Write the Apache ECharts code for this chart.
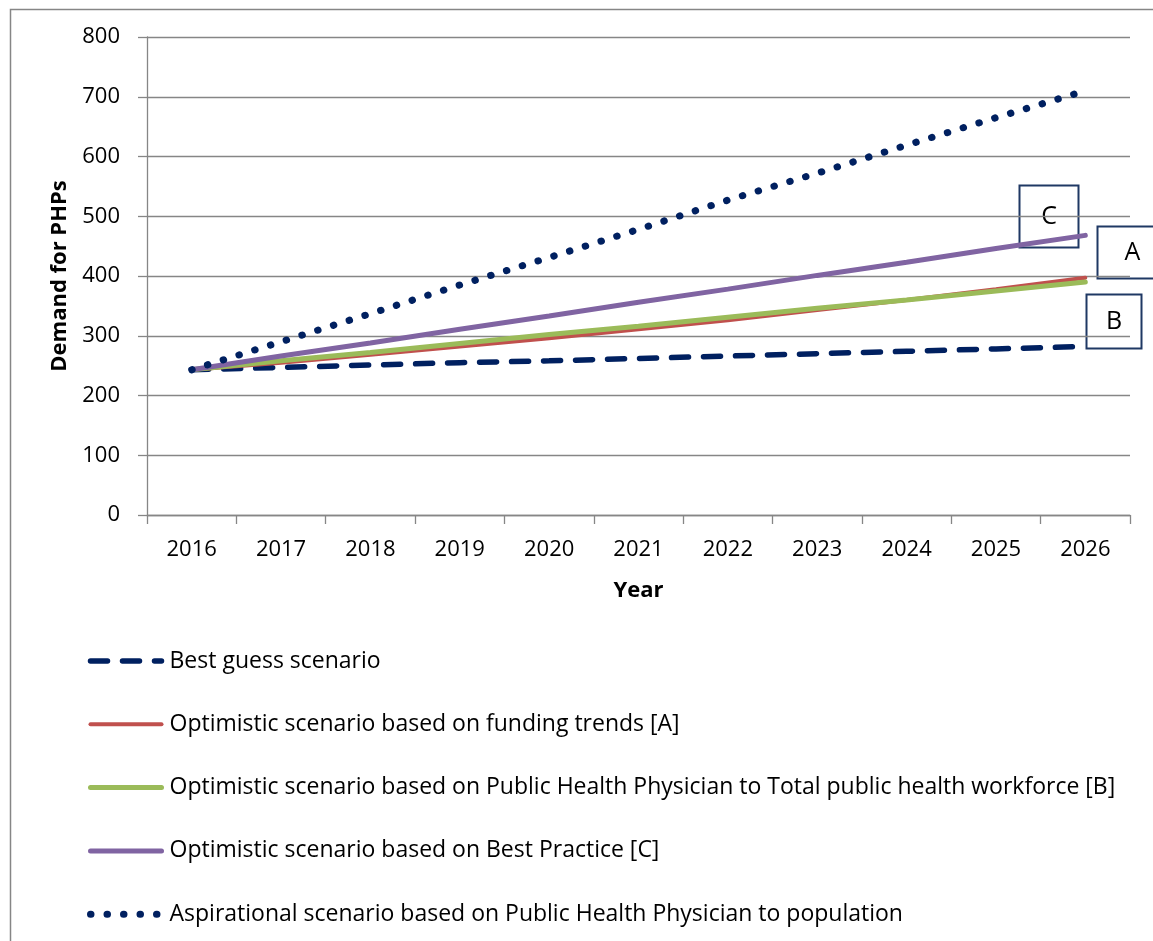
<!DOCTYPE html>
<html>
<head>
<meta charset="utf-8">
<script src="https://cdn.jsdelivr.net/npm/echarts@6/dist/echarts.min.js"></script>
<style>
  html, body { margin: 0; padding: 0; background: #fff; }
  #main { width: 1153px; height: 941px; }
</style>
</head>
<body>
<div id="main"></div>
<script>
var years = ['2016', '2017', '2018', '2019', '2020', '2021', '2022', '2023', '2024', '2025', '2026'];
var bestGuess = [243, 247, 251, 255, 258, 262, 266, 270, 274, 278, 282];
var fundingA = [243, 255, 268, 282, 296, 311, 326, 343, 360, 378, 397];
var workforceB = [243, 258, 272, 287, 302, 316, 331, 346, 360, 375, 390];
var bestPracticeC = [243, 266, 288, 311, 333, 356, 378, 401, 423, 446, 468];
var aspirational = [243, 290, 337, 385, 431, 478, 527, 572, 619, 665, 710];
var yTicks = { min: 0, max: 800, step: 100 };

var names = [
    'Best guess scenario',
    'Optimistic scenario based on funding trends [A]',
    'Optimistic scenario based on Public Health Physician to Total public health workforce [B]',
    'Optimistic scenario based on Best Practice [C]',
    'Aspirational scenario based on Public Health Physician to population'
];

var navy = '#002060';
var gridGray = '#868686';
var font = 'Open Sans';

var chart = echarts.init(document.getElementById('main'));

// text boxes (Excel shapes), no fill
function box(x, y, w, h, label) {
    return {
        type: 'group',
        left: x, top: y,
        z: 10,
        children: [
            { type: 'rect', shape: { x: 0, y: 0, width: w, height: h },
              style: { fill: 'none', stroke: '#1F3864', lineWidth: 2 } },
            { type: 'text', x: w / 2, y: h / 2,
              style: { text: label, fontFamily: font, fontSize: 25, fill: '#000',
                       align: 'center', verticalAlign: 'middle' } }
        ]
    }
}

var styles = [
    { color: navy, width: 5.5, type: [17, 15], cap: 'round' },
    { color: '#C0504D', width: 4, cap: 'round' },
    { color: '#9BBB59', width: 5, cap: 'round' },
    { color: '#8064A2', width: 5, cap: 'round' },
    { color: navy, width: 7, type: [0.5, 16], cap: 'round' }
];
var seriesData = [bestGuess, fundingA, workforceB, bestPracticeC, aspirational];

var option = {
    animation: false,
    textStyle: { fontFamily: font },
    grid: { left: 147, right: 23, top: 37, bottom: 426 },
    xAxis: {
        type: 'category',
        data: years,
        boundaryGap: true,
        name: 'Year',
        nameLocation: 'middle',
        nameGap: 65,
        nameTextStyle: { fontFamily: font, fontWeight: 'bold', fontSize: 22, color: '#000' },
        axisLine: { lineStyle: { color: gridGray, width: 1.3 } },
        axisTick: { show: true, length: 9, lineStyle: { color: gridGray, width: 1.3 } },
        axisLabel: { color: '#000', fontSize: 22, margin: 24, fontFamily: font }
    },
    yAxis: {
        type: 'value',
        min: yTicks.min, max: yTicks.max, interval: yTicks.step,
        name: 'Demand for PHPs',
        nameLocation: 'middle',
        nameGap: 76,
        nameTextStyle: { fontFamily: font, fontWeight: 'bold', fontSize: 22, color: '#000' },
        axisLine: { show: true, lineStyle: { color: gridGray, width: 1.3 } },
        axisTick: { show: true, length: 9, lineStyle: { color: gridGray, width: 1.3 } },
        splitLine: { lineStyle: { color: gridGray, width: 1.3 } },
        axisLabel: { color: '#000', fontSize: 22, margin: 27, fontFamily: font }
    },
    legend: {
        orient: 'vertical',
        left: 87, top: 648,
        padding: 0,
        itemWidth: 71, itemHeight: 14,
        itemGap: 37.3,
        itemStyle: { opacity: 0 },
        textStyle: { fontSize: 23, color: '#000', fontFamily: font, lineHeight: 26, padding: [0, 0, 0, 3] },
        data: names.map(function (n, i) {
            return { name: n, lineStyle: { width: styles[i].width, type: styles[i].type || 'solid', cap: 'round' } };
        })
    },
    graphic: [
        { type: 'rect', left: 8, top: 7, silent: true,
          shape: { width: 1200, height: 1000 },
          style: { fill: 'none', stroke: gridGray, lineWidth: 1.5 } },
        box(1017, 183, 59, 62, 'C'),
        box(1095, 224, 70, 52, 'A'),
        box(1084, 292, 55, 54, 'B')
    ],
    series: names.map(function (n, i) {
        return {
            name: n, type: 'line', data: seriesData[i], symbol: 'none', z: 20,
            lineStyle: styles[i],
            itemStyle: { color: styles[i].color }
        };
    })
};

chart.setOption(option);
</script>
</body>
</html>
